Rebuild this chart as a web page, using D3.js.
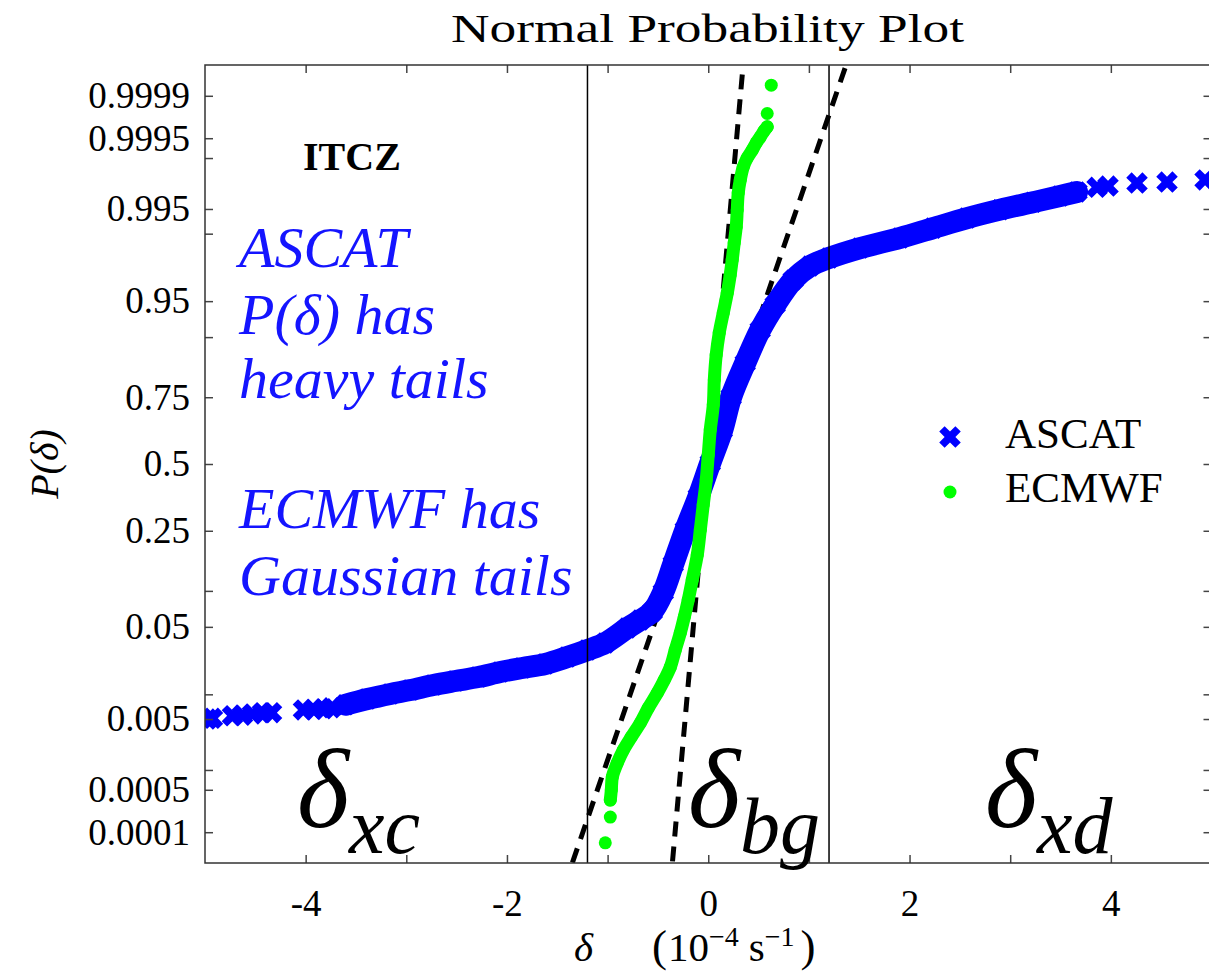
<!DOCTYPE html>
<meta charset="utf-8">
<style>
body{margin:0;background:#fff;}
text{font-family:"Liberation Serif",serif;fill:#000;}
</style>
<script src="https://cdn.jsdelivr.net/npm/d3@7"></script>
<svg id="chart" width="1209" height="974"></svg>
<script>

// ASCAT, dense part of the band
var ascatDelta = [-3.605,-3.386,-3.158,-2.959,-2.731,-2.512,-2.284,-2.066,-1.847,-1.619,-1.400,-1.201,-1.023,-0.804,-0.675,-0.556,-0.447,-0.348,-0.228,-0.099,0.020,0.139,0.228,0.367,0.516,0.665,0.844,1.013,1.202,1.509,1.907,2.234,2.572,2.900,3.227,3.496,3.664]
var ascatProb = [0.0075,0.0088,0.0101,0.0112,0.0128,0.0142,0.0157,0.0178,0.0197,0.0217,0.0256,0.0301,0.0353,0.0488,0.0575,0.0680,0.098,0.156,0.2525,0.3695,0.504,0.634,0.751,0.846,0.912,0.946,0.9685,0.9772,0.9813,0.9854,0.9888,0.9914,0.9935,0.9949,0.9959,0.9966,0.9970]
// ASCAT, isolated crosses in both tails
var ascatTailDelta = [-4.975,-4.926,-4.727,-4.628,-4.528,-4.429,-4.339,-4.022,-3.922,-3.823,-3.744,3.863,3.972,4.260,4.558,4.936]
var ascatTailProb = [0.0050,0.0051,0.0055,0.0056,0.0058,0.0060,0.0060,0.0065,0.0066,0.0067,0.0069,0.99740,0.99750,0.99773,0.99780,0.99794]

// ECMWF
var ecmwfDelta = [-0.973,-0.963,-0.953,-0.904,-0.844,-0.765,-0.675,-0.596,-0.506,-0.437,-0.377,-0.328,-0.278,-0.238,-0.199,-0.159,-0.109,-0.079,-0.050,-0.020,0.000,0.020,0.050,0.060,0.079,0.109,0.149,0.189,0.218,0.238,0.258,0.278,0.288,0.298,0.318,0.348,0.387,0.437,0.477,0.516,0.556,0.586]
var ecmwfProb = [3.44e-4,4.96e-4,7.84e-4,1.26e-3,1.93e-3,2.91e-3,4.45e-3,6.85e-3,0.01036,0.01456,0.0201,0.0301,0.0439,0.0612,0.0847,0.1206,0.179,0.2525,0.3394,0.4357,0.536,0.634,0.724,0.802,0.8645,0.907,0.9364,0.9579,0.9719,0.9803,0.9872,0.99167,0.99486,0.99690,0.99794,0.99865,0.99900,0.99924,0.99941,0.99952,0.99962,0.99967]
var ecmwfTailDelta = [-1.023,-0.973,0.586,0.626]
var ecmwfTailProb = [6.5e-5,1.81e-4,0.99980,0.999935]

// dashed reference lines (end points)
var refAscatDelta = [-1.430,1.449]
var refEcmwfDelta = [-0.377,0.367]
var refProb = [1e-5,0.99999]

// thresholds delta = +-1.2
var thresholds = [-1.2,1.2]

var xTicks = [-4,-3,-2,-1,0,1,2,3,4]
var xLabels = ["-4","","-2","","0","","2","","4"]
var pTicks = [0.0001,0.0005,0.001,0.005,0.01,0.05,0.1,0.25,0.5,0.75,0.9,0.95,0.99,0.995,0.999,0.9995,0.9999]
var pLabels = ["0.0001","0.0005","","0.005","","0.05","","0.25","0.5","0.75","","0.95","","0.995","","0.9995","0.9999"]

// inverse normal cdf (Acklam)
function probit(p){
	var a=[-3.969683028665376e+01,2.209460984245205e+02,-2.759285104469687e+02,1.383577518672690e+02,-3.066479806614716e+01,2.506628277459239e+00]
	var b=[-5.447609879822406e+01,1.615858368580409e+02,-1.556989798598866e+02,6.680131188771972e+01,-1.328068155288572e+01]
	var c=[-7.784894002430293e-03,-3.223964580411365e-01,-2.400758277161838e+00,-2.549671039776873e+00,4.374664141464968e+00,2.938163982698783e+00]
	var d=[7.784695709041462e-03,3.224671290700398e-01,2.445134137142996e+00,3.754408661907416e+00]
	var q,r
	if(p<0.02425){
		q=Math.sqrt(-2*Math.log(p))
		return (((((c[0]*q+c[1])*q+c[2])*q+c[3])*q+c[4])*q+c[5])/((((d[0]*q+d[1])*q+d[2])*q+d[3])*q+1)
	}
	if(p>1-0.02425){
		q=Math.sqrt(-2*Math.log(1-p))
		return -(((((c[0]*q+c[1])*q+c[2])*q+c[3])*q+c[4])*q+c[5])/((((d[0]*q+d[1])*q+d[2])*q+d[3])*q+1)
	}
	q=p-0.5; r=q*q
	return (((((a[0]*r+a[1])*r+a[2])*r+a[3])*r+a[4])*r+a[5])*q/(((((b[0]*r+b[1])*r+b[2])*r+b[3])*r+b[4])*r+1)
}

var FONT = "Liberation Serif"
var L=205, R=1211.5, T=65, B=863
var svg = d3.select("#chart")
var x = d3.scaleLinear().domain([-5,5]).range([L,R])
var z = d3.scaleLinear().domain([-4.03,4.03]).range([B,T])
var y = function(p){ return z(probit(p)) }

svg.append("rect").attr("width",1209).attr("height",974).attr("fill","#fff")
svg.append("clipPath").attr("id","clip").append("rect")
	.attr("x",L).attr("y",T).attr("width",R-L).attr("height",B-T)

var plot = svg.append("g").attr("clip-path","url(#clip)")

function pts(ds,ps){ return ds.map(function(dv,i){ return [dv,ps[i]] }) }
var line = d3.line().x(function(d){return x(d[0])}).y(function(d){return y(d[1])}).curve(d3.curveCatmullRom)

// reference lines
plot.selectAll(".ref").data([refAscatDelta,refEcmwfDelta]).enter().append("path")
	.attr("d",function(ds){ return d3.line()(ds.map(function(dv,i){ return [x(dv),y(refProb[i])] })) })
	.attr("stroke","#000").attr("stroke-width",5).attr("stroke-dasharray","15,10").attr("fill","none")

// ASCAT
var cross = d3.symbol().type(d3.symbolCross).size(290)
var ascat = pts(ascatDelta,ascatProb)
plot.append("path").attr("d",line(ascat)).attr("stroke","#0000ff").attr("stroke-width",22)
	.attr("fill","none").attr("stroke-linecap","round").attr("stroke-linejoin","round")
plot.selectAll(".ascat").data(ascat.concat(pts(ascatTailDelta,ascatTailProb))).enter().append("path")
	.attr("d",cross).attr("fill","#0000ff")
	.attr("transform",function(d){ return "translate("+x(d[0])+","+y(d[1])+") rotate(45)" })

// ECMWF
var ecmwf = pts(ecmwfDelta,ecmwfProb)
plot.append("path").attr("d",line(ecmwf)).attr("stroke","#00ff00").attr("stroke-width",13)
	.attr("fill","none").attr("stroke-linecap","round").attr("stroke-linejoin","round")
plot.selectAll(".ecmwf").data(ecmwf.concat(pts(ecmwfTailDelta,ecmwfTailProb))).enter().append("circle")
	.attr("cx",function(d){return x(d[0])}).attr("cy",function(d){return y(d[1])})
	.attr("r",6.5).attr("fill","#00ff00")

// threshold lines
plot.selectAll(".thr").data(thresholds).enter().append("line")
	.attr("x1",x).attr("x2",x).attr("y1",T).attr("y2",B)
	.attr("stroke","#000").attr("stroke-width",1.5)

// axes
var zt = pTicks.map(probit)
function styleAxis(g){
	g.select(".domain").remove()
	g.selectAll(".tick line").attr("stroke","#444").attr("stroke-width",1.5)
	g.selectAll("text").attr("font-family",FONT).attr("font-size",37).attr("fill","#000")
}
svg.append("g").attr("transform","translate("+L+",0)")
	.call(d3.axisLeft(z).tickValues(zt).tickSize(-8).tickPadding(15)
		.tickFormat(function(v,i){ return pLabels[i] }))
	.call(styleAxis)
svg.append("g").attr("transform","translate("+R+",0)")
	.call(d3.axisRight(z).tickValues(zt).tickSize(-8).tickFormat(""))
	.call(styleAxis)
svg.append("g").attr("transform","translate(0,"+B+")")
	.call(d3.axisBottom(x).tickValues(xTicks).tickSize(-8).tickPadding(27)
		.tickFormat(function(v,i){ return xLabels[i] }))
	.call(styleAxis)
svg.append("g").attr("transform","translate(0,"+T+")")
	.call(d3.axisTop(x).tickValues(xTicks).tickSize(-8).tickFormat(""))
	.call(styleAxis)

svg.append("rect").attr("x",L).attr("y",T).attr("width",R-L).attr("height",B-T)
	.attr("fill","none").attr("stroke","#333").attr("stroke-width",1.5)

function txt(sel){ return sel.append("text").attr("font-family",FONT) }

// title and axis titles
txt(svg).attr("x",451).attr("y",42).attr("font-size",40)
	.attr("textLength",513).attr("lengthAdjust","spacingAndGlyphs").text("Normal Probability Plot")

txt(svg).attr("transform","translate(58,464) rotate(-90)").attr("text-anchor","middle")
	.attr("font-size",40).attr("font-style","italic").text("P(δ)")

var xt = txt(svg).attr("y",961).attr("font-size",41)
xt.append("tspan").attr("x",574).attr("font-style","italic").text("δ")
xt.append("tspan").attr("x",652).attr("font-size",45).text("(")
xt.append("tspan").attr("dx",1).text("10")
xt.append("tspan").attr("font-size",28).attr("dy",-15).text("−4")
xt.append("tspan").attr("dy",15).attr("dx",10).text("s")
xt.append("tspan").attr("font-size",28).attr("dy",-15).text("−1")
xt.append("tspan").attr("font-size",45).attr("dy",15).attr("dx",6).text(")")

// annotations
txt(svg).attr("x",303).attr("y",170).attr("font-size",40).attr("font-weight","bold").text("ITCZ")

var notes = ["ASCAT","P(δ) has","heavy tails","ECMWF has","Gaussian tails"]
var noteY = [267,334,398,528,595]
svg.selectAll(".note").data(notes).enter().append("text")
	.attr("font-family",FONT)
	.attr("x",239).attr("y",function(d,i){return noteY[i]})
	.attr("font-size",58).attr("font-style","italic").style("fill","#1414ff")
	.text(function(d){return d})

var regions = [["xc",297],["bg",688],["xd",985]]
regions.forEach(function(r){
	var t = txt(svg).attr("x",r[1]).attr("y",827).attr("font-style","italic")
	t.append("tspan").attr("font-size",112).text("δ")
	t.append("tspan").attr("font-size",80).attr("dy",26).text(r[0])
})

// legend
var lg = svg.append("g")
lg.append("path").attr("d",cross).attr("fill","#0000ff").attr("transform","translate(950,437) rotate(45)")
lg.append("circle").attr("cx",950).attr("cy",492).attr("r",6.5).attr("fill","#00ff00")
txt(lg).attr("x",1005).attr("y",448).attr("font-size",43).text("ASCAT")
txt(lg).attr("x",1005).attr("y",502).attr("font-size",43).text("ECMWF")

</script>
